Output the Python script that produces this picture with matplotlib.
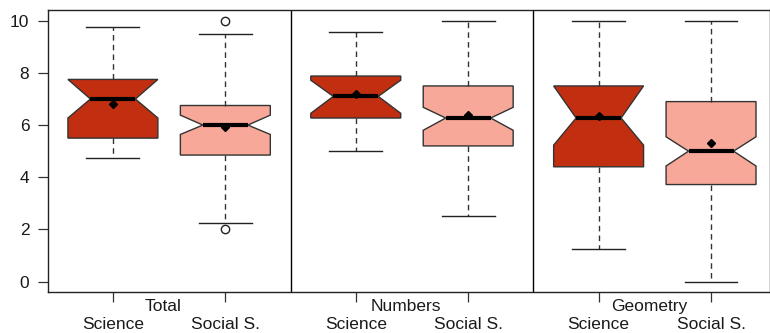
import matplotlib.pyplot as plt
from matplotlib.transforms import blended_transform_factory

plt.rcParams['font.family'] = ['Liberation Sans', 'DejaVu Sans']

# Score summaries per test section, two groups each
groups = ['Total', 'Numbers', 'Geometry']
tick_labels = ['Science', 'Social S.'] * 3

medians = [7.0, 6.0, 7.1, 6.27, 6.27, 5.0]
q1s = [5.5, 4.85, 6.27, 5.2, 4.4, 3.72]
q3s = [7.75, 6.75, 7.88, 7.5, 7.5, 6.9]
whis_lo = [4.75, 2.25, 5.0, 2.5, 1.25, 0.0]
whis_hi = [9.75, 9.5, 9.57, 10.0, 10.0, 10.0]
notch_lo = [6.27, 5.64, 6.45, 5.8, 5.23, 4.43]
notch_hi = [7.75, 6.38, 7.72, 6.68, 7.5, 5.55]
means = [6.82, 5.92, 7.18, 6.38, 6.33, 5.3]
outliers = [[], [10.0, 2.0], [], [], [], []]

colors = ['#c12f10', '#f8a898'] * 3

positions = [1, 2, 3.16, 4.16, 5.32, 6.32]
separators = [2.58, 4.74]

stats = []
for i in range(6):
    stats.append(dict(med=medians[i], q1=q1s[i], q3=q3s[i],
                      whislo=whis_lo[i], whishi=whis_hi[i],
                      cilo=notch_lo[i], cihi=notch_hi[i],
                      mean=means[i], fliers=outliers[i]))

fig = plt.figure(figsize=(7.7, 3.33), dpi=100)
ax = fig.add_axes([47.7 / 770, 1 - 292 / 333, (769.5 - 47.7) / 770, (292 - 10.3) / 333])

bp = ax.bxp(stats, positions=positions, widths=0.8, capwidths=0.47,
            shownotches=True, showmeans=True, patch_artist=True,
            boxprops=dict(edgecolor='#333333', linewidth=1.0),
            medianprops=dict(color='black', linewidth=3, zorder=4),
            meanprops=dict(marker='D', markerfacecolor='black',
                           markeredgecolor='black', markersize=4.5, zorder=3),
            whiskerprops=dict(color='#333333', linewidth=1.0, linestyle=(0, (4, 3))),
            capprops=dict(color='#222222', linewidth=1.0),
            flierprops=dict(marker='o', markerfacecolor='white',
                            markeredgecolor='#222222', markersize=6))
for patch, c in zip(bp['boxes'], colors):
    patch.set_facecolor(c)

for s in separators:
    ax.axvline(s, color='black', linewidth=1.0)

ax.set_xlim(0.42, 6.84)
ax.set_ylim(-0.4, 10.4)
ax.set_yticks(range(0, 11, 2))
ax.set_xticks(positions)
ax.set_xticklabels(tick_labels)
ax.tick_params(axis='both', length=7.2, width=0.9, color='#333333',
               labelsize=12.5, labelcolor='#1a1a1a')
ax.tick_params(axis='x', pad=10.5)
ax.tick_params(axis='y', pad=6)
for sp in ax.spines.values():
    sp.set_linewidth(1.0)
    sp.set_color('#222222')

# section names between the two boxes of each section
trans = blended_transform_factory(ax.transData, ax.transAxes)
for k, g in enumerate(groups):
    mid = (positions[2 * k] + positions[2 * k + 1]) / 2 - 0.05
    ax.text(mid, -0.024, g, transform=trans, ha='center', va='top',
            fontsize=12.5, color='#1a1a1a')

fig.savefig('out.png', dpi=100)
